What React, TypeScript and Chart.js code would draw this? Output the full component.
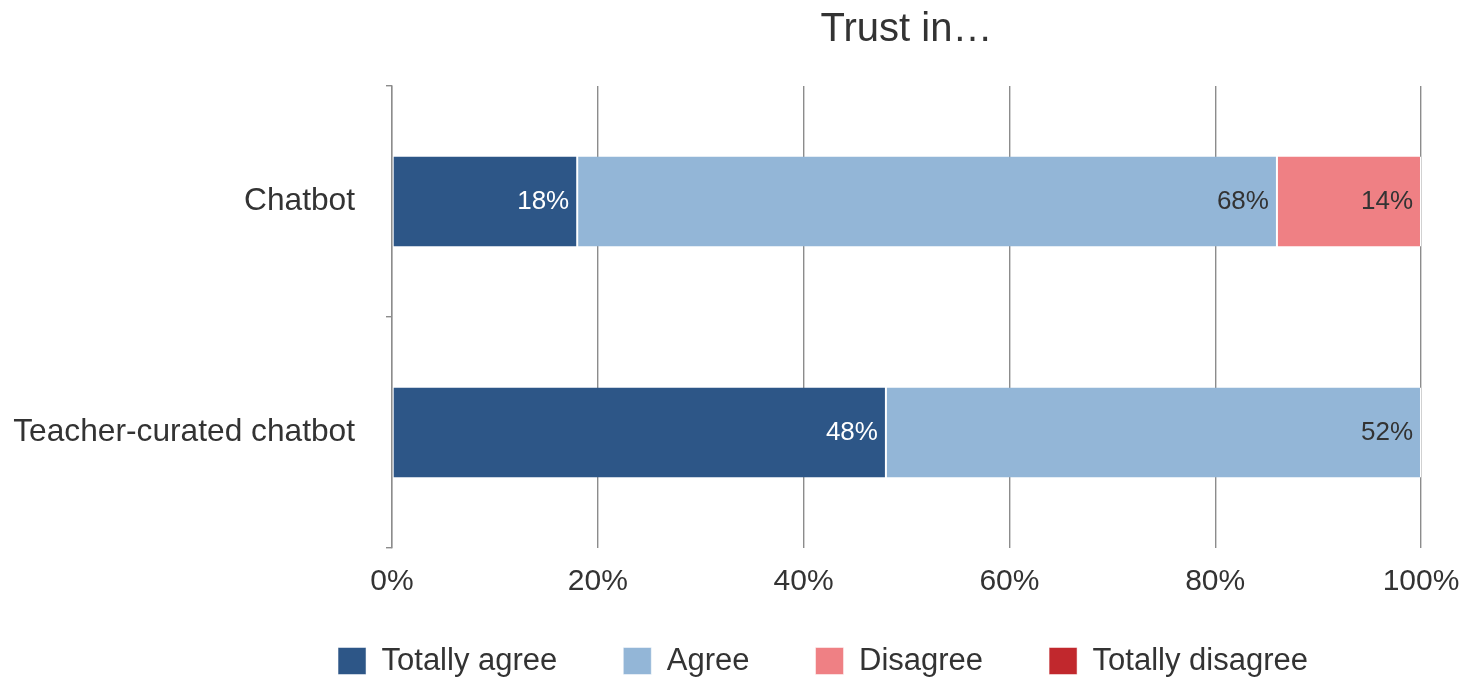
import React, { useEffect, useRef } from "react";
import { Chart, registerables } from "chart.js";

Chart.register(...registerables);

const chartTitle = "Trust in…";
const categories = ["Chatbot", "Teacher-curated chatbot"];
const seriesNames = ["Totally agree", "Agree", "Disagree", "Totally disagree"];
const totallyAgree = [18, 48];
const agree = [68, 52];
const disagree = [14, 0];
const totallyDisagree = [0, 0];
const xTickStep = 20;
const xMin = 0;
const xMax = 100;

const seriesColors = ["#2d5687", "#93b6d7", "#ef8084", "#c1282d"];
const labelColors = ["#ffffff", "#333333", "#333333", "#ffffff"];
const FONT = '"Liberation Sans", Arial, Helvetica, sans-serif';
const TEXT = "#333333";
const GRID = "#8c8c8c";

const barLabels = {
  id: "barLabels",
  afterDatasetsDraw(chart: any) {
    const { ctx } = chart;
    chart.data.datasets.forEach((ds: any, di: number) => {
      const meta = chart.getDatasetMeta(di);
      if (meta.hidden) return;
      meta.data.forEach((bar: any, i: number) => {
        const v = ds.data[i];
        if (!v) return;
        ctx.save();
        ctx.font = `26px ${FONT}`;
        ctx.fillStyle = labelColors[di];
        ctx.textAlign = "right";
        ctx.textBaseline = "middle";
        ctx.fillText(`${v}%`, bar.x - 8, bar.y);
        ctx.restore();
      });
    });
  },
};

// shift the legend block so it sits where the reference places it
const legendPlacer = {
  id: "legendPlacer",
  afterLayout(chart: any) {
    const lg = chart.legend;
    if (!lg) return;
    lg.left = 180;
    lg.right = chart.width;
    lg.top = 579.5;
    lg.bottom = chart.height;
  },
};

export default function App() {
  const canvasRef = useRef<HTMLCanvasElement | null>(null);

  useEffect(() => {
    if (!canvasRef.current) return;
    const seriesData = [totallyAgree, agree, disagree, totallyDisagree];
    const chart = new Chart(canvasRef.current, {
      type: "bar",
      data: {
        labels: categories,
        datasets: seriesNames.map((name, i) => ({
          label: name,
          data: seriesData[i],
          backgroundColor: seriesColors[i],
          borderColor: "#ffffff",
          borderWidth: { left: 1, right: 1, top: 0, bottom: 0 },
          borderSkipped: false,
          barPercentage: 0.39,
          categoryPercentage: 1,
        })),
      },
      options: {
        indexAxis: "y",
        animation: false,
        responsive: true,
        maintainAspectRatio: false,
        layout: { padding: { left: 12, right: 45, top: 0, bottom: 0 } },
        font: { family: FONT },
        scales: {
          x: {
            stacked: true,
            min: xMin,
            max: xMax,
            ticks: {
              stepSize: xTickStep,
              callback: (v: any) => `${v}%`,
              color: TEXT,
              font: { family: FONT, size: 30 },
              padding: 16,
              maxRotation: 0,
            },
            grid: {
              color: GRID,
              lineWidth: 1.4,
              drawTicks: false,
            },
            border: { display: false },
            afterFit: (s: any) => {
              s.height = 52;
              s.paddingLeft = 0;
              s.paddingRight = 0;
            },
          },
          y: {
            stacked: true,
            ticks: {
              color: TEXT,
              font: { family: FONT, size: 31.7 },
              padding: 31,
            },
            grid: {
              offset: true,
              drawOnChartArea: false,
              drawTicks: true,
              tickLength: 6,
              color: GRID,
              lineWidth: 1.4,
            },
            border: { display: true, color: GRID, width: 1.4 },
            afterFit: (s: any) => {
              s.width = 380;
            },
          },
        },
        plugins: {
          title: {
            display: true,
            text: chartTitle,
            fullSize: false,
            color: TEXT,
            font: { family: FONT, size: 40, weight: "normal" },
            padding: { top: 6, bottom: 32 },
          },
          legend: {
            position: "bottom",
            maxHeight: 79,
            labels: {
              color: TEXT,
              font: { family: FONT, size: 31 },
              boxWidth: 28,
              boxHeight: 27,
              padding: 66,
            },
          },
          tooltip: { enabled: false },
        },
      } as any,
      plugins: [barLabels, legendPlacer],
    });
    return () => chart.destroy();
  }, []);

  return (
    <div style={{ position: "absolute", left: 0, top: 0, width: 1466, height: 679, background: "#fff" }}>
      <canvas ref={canvasRef} />
    </div>
  );
}
